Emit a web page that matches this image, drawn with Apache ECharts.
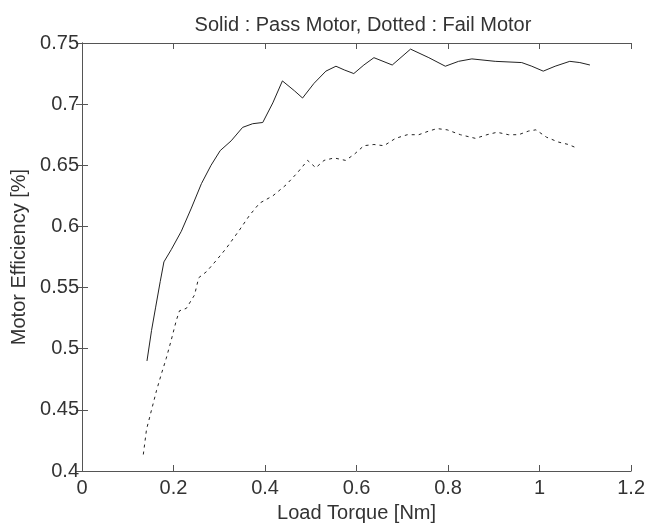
<!DOCTYPE html>
<html>
<head>
<meta charset="utf-8">
<script src="https://cdn.jsdelivr.net/npm/echarts@6/dist/echarts.min.js"></script>
<style>html,body{margin:0;padding:0;background:#fff;}#c{width:648px;height:528px;}</style>
</head>
<body>
<div id="c"></div>
<script>
var titleText = 'Solid : Pass Motor, Dotted : Fail Motor';
var xName = 'Load Torque [Nm]';
var yName = 'Motor Efficiency [%]';
var xTicks = [0, 0.2, 0.4, 0.6, 0.8, 1, 1.2];
var yTicks = [0.4, 0.45, 0.5, 0.55, 0.6, 0.65, 0.7, 0.75];

var passX = [0.142,0.152,0.161,0.171,0.179,0.195,0.217,0.239,0.261,0.282,0.302,0.326,0.351,0.373,0.395,0.417,0.438,0.464,0.482,0.507,0.533,0.555,0.573,0.594,0.616,0.638,0.678,0.718,0.758,0.794,0.823,0.852,0.903,0.961,0.983,1.008,1.034,1.066,1.088,1.110];
var passY = [0.490,0.515,0.534,0.555,0.571,0.581,0.596,0.615,0.635,0.650,0.662,0.670,0.681,0.684,0.685,0.701,0.719,0.711,0.705,0.717,0.727,0.731,0.728,0.725,0.732,0.738,0.732,0.745,0.738,0.731,0.735,0.737,0.735,0.734,0.731,0.727,0.731,0.735,0.734,0.732];

var failX = [0.134,0.141,0.152,0.163,0.174,0.184,0.195,0.206,0.213,0.228,0.246,0.255,0.272,0.293,0.315,0.344,0.366,0.388,0.417,0.446,0.471,0.493,0.511,0.529,0.551,0.576,0.595,0.616,0.638,0.660,0.685,0.711,0.736,0.758,0.776,0.798,0.827,0.860,0.885,0.907,0.932,0.954,0.976,0.992,1.015,1.041,1.063,1.082];
var failY = [0.4135,0.434,0.450,0.466,0.480,0.492,0.507,0.523,0.531,0.533,0.544,0.558,0.563,0.572,0.582,0.597,0.609,0.619,0.625,0.634,0.644,0.654,0.648,0.654,0.656,0.654,0.659,0.666,0.667,0.666,0.672,0.675,0.675,0.678,0.680,0.679,0.675,0.672,0.675,0.677,0.675,0.675,0.678,0.679,0.673,0.669,0.667,0.664];

function zip(a, b) { return a.map(function (v, i) { return [v, b[i]]; }); }

var font = 'Liberation Sans, Arial, sans-serif';
var fs = 20;
var txt = '#333';
var axLine = { lineStyle: { color: '#555', width: 1 } };
var tick = { inside: true, length: 6, lineStyle: { color: '#555' } };

var chart = echarts.init(document.getElementById('c'), null, { renderer: 'canvas' });
chart.setOption({
  animation: false,
  backgroundColor: '#fff',
  title: {
    text: titleText, left: 358, top: 10, textAlign: 'center',
    textStyle: { fontFamily: font, fontSize: fs, fontWeight: 'normal', color: txt }
  },
  grid: { left: 82, right: 15, top: 43, bottom: 53 },
  xAxis: [{
    type: 'value', min: xTicks[0], max: xTicks[xTicks.length - 1], interval: 0.2,
    position: 'bottom',
    name: xName, nameLocation: 'middle', nameGap: 32,
    nameTextStyle: { fontFamily: font, fontSize: fs, color: txt },
    axisLine: axLine, axisTick: tick,
    axisLabel: { fontFamily: font, fontSize: fs, color: txt, margin: 7 },
    splitLine: { show: false }
  }, {
    type: 'value', min: xTicks[0], max: xTicks[xTicks.length - 1], interval: 0.2,
    position: 'top', axisLine: axLine, axisTick: tick,
    axisLabel: { show: false }, splitLine: { show: false }
  }],
  yAxis: [{
    type: 'value', min: yTicks[0], max: yTicks[yTicks.length - 1], interval: 0.05,
    position: 'left',
    name: yName, nameLocation: 'middle', nameGap: 44,
    nameTextStyle: { fontFamily: font, fontSize: fs, color: txt },
    axisLine: axLine, axisTick: tick,
    axisLabel: { fontFamily: font, fontSize: fs, color: txt, margin: 3 },
    splitLine: { show: false }
  }, {
    type: 'value', min: yTicks[0], max: yTicks[yTicks.length - 1], interval: 0.05,
    position: 'right', axisLine: axLine, axisTick: tick,
    axisLabel: { show: false }, splitLine: { show: false }
  }],
  series: [{
    type: 'line', data: zip(passX, passY), showSymbol: false, symbol: 'none',
    lineStyle: { color: '#222', width: 1 }
  }, {
    type: 'line', data: zip(failX, failY), showSymbol: false, symbol: 'none',
    lineStyle: { color: '#222', width: 1, type: [3, 4] }
  }]
});
</script>
</body>
</html>
